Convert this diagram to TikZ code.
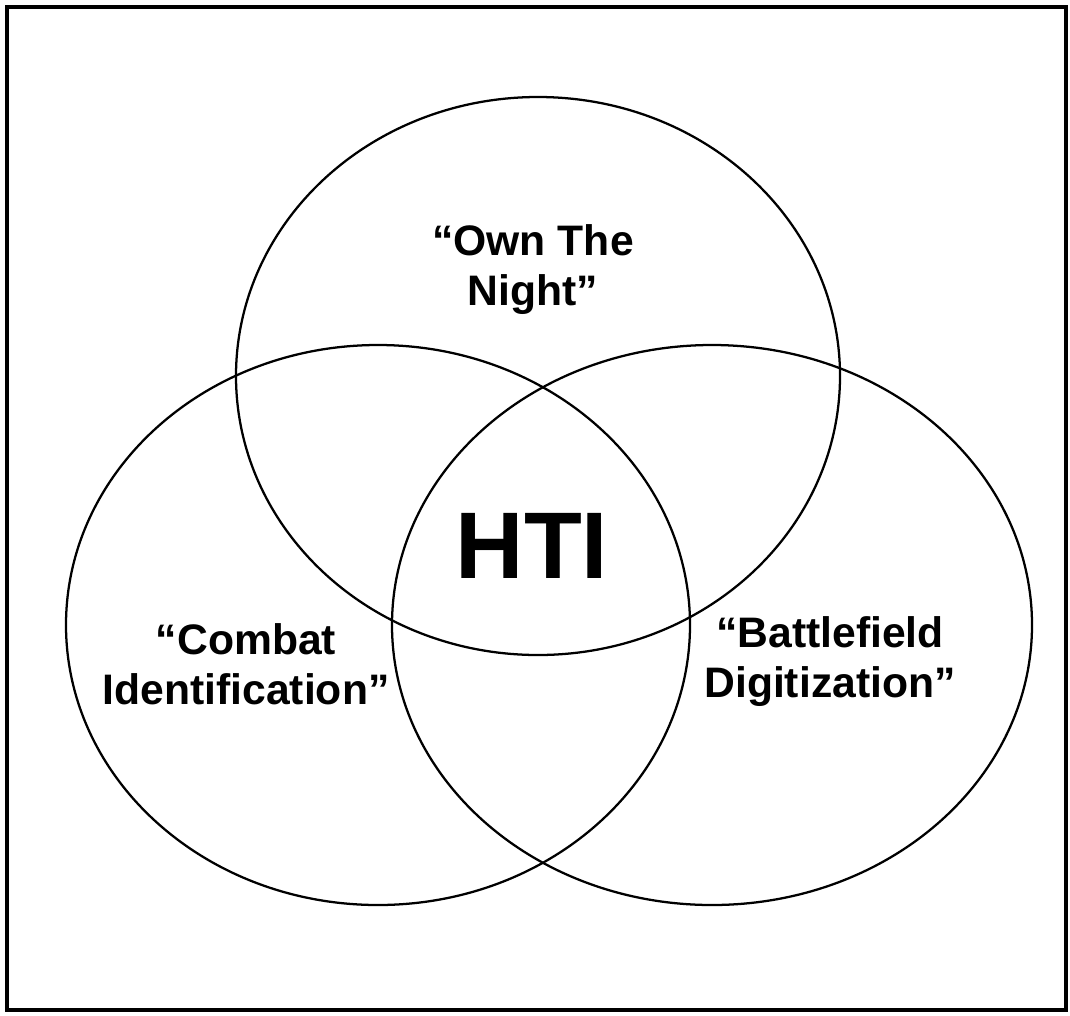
\documentclass[tikz,border=0pt]{standalone}
\usepackage{fontspec}
\setmainfont{Liberation Sans}
\usepackage{tikz}
\tikzset{every picture/.style={line width=0.75pt}}
\tikzset{venn/.style={line width=1.7pt},
	lbl/.style={inner sep=0.75pt, align=center, font=\bfseries\fontsize{32}{37.5}\selectfont}}

\begin{document}
\begin{tikzpicture}[x=0.75pt,y=0.75pt,yscale=-1,xscale=1]
		\path [use as bounding box] (0,0) rectangle (1070,1015);
		
		%Shape: Rectangle [frame] 
		\draw [line width=2.6] (7,7) rectangle (1066,1010) ;
		%Shape: Ellipse [top] 
		\draw [venn] (538,376) ellipse [x radius=302, y radius=279] ;
		%Shape: Ellipse [left] 
		\draw [venn] (378,625) ellipse [x radius=312, y radius=280] ;
		%Shape: Ellipse [right] 
		\draw [venn] (712,625) ellipse [x radius=320, y radius=280] ;
		
		% Text Node
		\draw (533,270) node (ownnight) [lbl] {“Own The\\Night”};
		% Text Node
		\draw (532,546) node (hti) [inner sep=0.75pt, font=\bfseries\fontsize{71}{84}\selectfont] {HTI};
		% Text Node
		\draw (246,664) node (combatid) [lbl] {“Combat\\Identification”};
		% Text Node
		\draw (830,662) node (digit) [lbl] {“Battlefield\\Digitization”};
		
\end{tikzpicture}
\end{document}
